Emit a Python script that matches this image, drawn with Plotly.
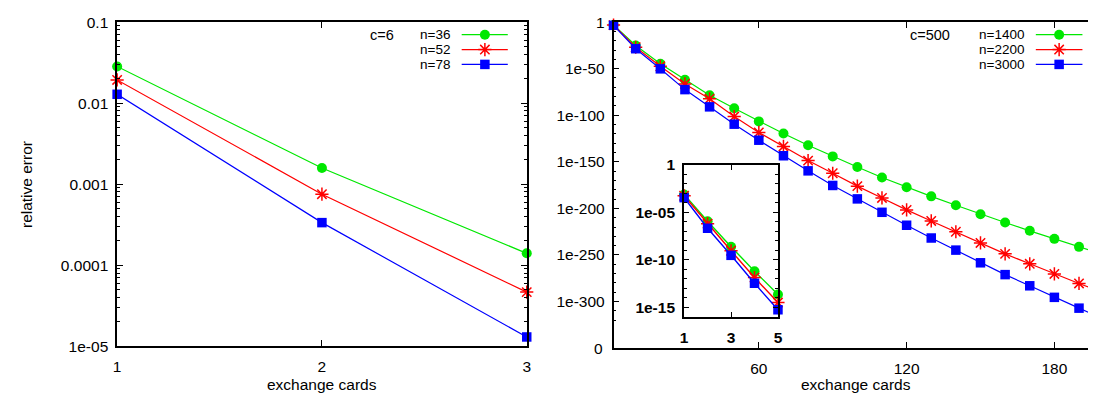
import plotly.graph_objects as go

# ---------------- data ----------------
# Left panel: c=6
left_x = [1, 2, 3]
left_n36 = [0.0283, 0.00158, 1.40e-4]
left_n52 = [0.0193, 7.52e-4, 4.65e-5]
left_n78 = [0.01285, 3.35e-4, 1.30e-5]

# Right panel: c=500 (values given as log10 exponents)
right_x = [1, 10, 20, 30, 40, 50, 60, 70, 80, 90, 100, 110, 120, 130, 140, 150, 160, 170, 180, 190, 200]
right_n1400_exp = [-3.12, -25.2, -44.8, -61.9, -78.5, -92.6, -106.6, -119.7, -132.2, -144.2, -155.6,
                   -166.9, -177.4, -187.1, -196.7, -206.3, -215.2, -224.1, -232.7, -241.3, -249.8]
right_n2200_exp = [-3.26, -27.0, -47.5, -66.4, -82.3, -101.4, -118.5, -133.5, -148.7, -162.3, -176.1,
                   -188.8, -201.6, -213.5, -225.1, -237.1, -248.8, -259.5, -270.4, -280.6, -290.5]
right_n3000_exp = [-3.46, -28.6, -50.2, -72.5, -91.0, -109.6, -126.8, -143.5, -159.7, -175.4, -189.8,
                   -204.2, -218.1, -231.8, -244.8, -258.4, -271.1, -283.1, -295.5, -307.1, -318.5]

# Inset: first five exchange cards
inset_x = [1, 2, 3, 4, 5]
inset_n1400_exp = [-3.12, -5.94, -8.62, -11.2, -13.65]
inset_n2200_exp = [-3.26, -6.2, -9.05, -11.87, -14.5]
inset_n3000_exp = [-3.46, -6.68, -9.53, -12.47, -15.26]

left_labels = ["n=36", "n=52", "n=78"]
right_labels = ["n=1400", "n=2200", "n=3000"]

# ---------------- styles ----------------
W, H = 1096, 403
GREEN, RED, BLUE = "#00e800", "#ff0000", "#0000ff"
FONT = "Liberation Sans, Arial, Helvetica, sans-serif"
FS = 15.5
LFS = 13.5
CLEAR = "rgba(0,0,0,0)"

def mk(color, sym):
    if sym == "asterisk":
        return dict(symbol="asterisk", size=11, color=color, opacity=1,
                    line=dict(color=color, width=1.5))
    size = 10 if sym == "circle" else 9.5
    return dict(symbol=sym, size=size, color=color, opacity=1, line=dict(width=0))

series_style = [(GREEN, "circle"), (RED, "asterisk"), (BLUE, "square")]

def px(x):
    return x / W

def py(y):
    return (H - y) / H

fig = go.Figure()

# left panel traces
for vals, (c, s), name in zip([left_n36, left_n52, left_n78], series_style, left_labels):
    fig.add_trace(go.Scatter(x=left_x, y=vals, mode="lines+markers", name=name,
                             line=dict(color=c, width=1.2), marker=mk(c, s),
                             cliponaxis=False, xaxis="x", yaxis="y", showlegend=False))

# right panel traces
for exps, (c, s), name in zip([right_n1400_exp, right_n2200_exp, right_n3000_exp], series_style, right_labels):
    vals = [10.0 ** e for e in exps]
    m = mk(c, s)
    m["size"] = [m["size"]] * (len(right_x) - 1) + [0]
    fig.add_trace(go.Scatter(x=right_x, y=vals, mode="lines+markers", name=name,
                             line=dict(color=c, width=1.2), marker=m,
                             cliponaxis=False, xaxis="x2", yaxis="y2", showlegend=False))

# inset traces
for exps, (c, s), name in zip([inset_n1400_exp, inset_n2200_exp, inset_n3000_exp], series_style, right_labels):
    vals = [10.0 ** e for e in exps]
    fig.add_trace(go.Scatter(x=inset_x, y=vals, mode="lines+markers", name=name,
                             line=dict(color=c, width=1.4), marker=mk(c, s),
                             cliponaxis=False, xaxis="x3", yaxis="y3", showlegend=False))

# legend samples on a pixel overlay
legend_rows = [18.5, 34, 49.5]
for (x0, x1, xm), labels in [((453.4, 499.9, 476.8), left_labels), ((1032.3, 1079.3, 1055.8), right_labels)]:
    for yrow, (c, s) in zip(legend_rows, series_style):
        fig.add_trace(go.Scatter(x=[x0, x1], y=[yrow, yrow], mode="lines", line=dict(color=c, width=1.2),
                                 xaxis="x4", yaxis="y4", showlegend=False, hoverinfo="skip"))
        fig.add_trace(go.Scatter(x=[xm], y=[yrow], mode="markers", marker=mk(c, s), cliponaxis=False,
                                 xaxis="x4", yaxis="y4", showlegend=False, hoverinfo="skip"))

tickfont = dict(family=FONT, size=FS, color="black")
axis_common = dict(showline=True, linecolor="black", linewidth=1.5, mirror="ticks",
                   ticks="inside", ticklen=6, tickwidth=1, tickcolor="black",
                   showgrid=False, zeroline=False, tickfont=tickfont, fixedrange=True)

left_minor = [k * 10.0 ** e for e in range(-5, -1) for k in range(2, 10)]
right_major = [10.0 ** (-e) for e in range(0, 301, 50)]
right_major_txt = ["1"] + ["1e-%d" % e for e in range(50, 301, 50)]
right_minor = [10.0 ** (-e) for e in range(10, 321, 10) if e % 50 != 0]
inset_minor = [10.0 ** (-e) for e in range(1, 17) if e % 5 != 0]

L0, L1 = 106, 519
R0, R1 = 606.5, 1096
I0, I1 = 677.7, 772.3

fig.update_layout(
    width=W, height=H, margin=dict(l=0, r=0, t=0, b=0),
    paper_bgcolor="white", plot_bgcolor=CLEAR, showlegend=False,
    font=dict(family=FONT, size=FS, color="black"),
    xaxis=dict(axis_common, domain=[px(L0), px(L1)], range=[1, 3], tickvals=[1, 2, 3],
               ticklabelstandoff=5, anchor="y"),
    yaxis=dict(axis_common, type="log", domain=[py(343.7), py(5.3)], range=[-5, -1],
               tickvals=[0.1, 0.01, 0.001, 0.0001, 1e-5],
               ticktext=["0.1", "0.01", "0.001", "0.0001", "1e-05"],
               minor=dict(tickmode="array", tickvals=left_minor, ticks="inside", ticklen=3,
                          tickcolor="black", tickwidth=1, showgrid=False),
               ticklabelstandoff=4, anchor="x"),
    xaxis2=dict(axis_common, domain=[px(R0), px(R1)], range=[1, 1 + (R1 - R0) / 2.4833],
                tickvals=[60, 120, 180], ticklabelstandoff=6, anchor="y2"),
    yaxis2=dict(axis_common, type="log", domain=[py(345.7), py(5.3)], range=[-350, 0],
                tickvals=right_major, ticktext=right_major_txt,
                minor=dict(tickmode="array", tickvals=right_minor, ticks="inside", ticklen=3,
                           tickcolor="black", tickwidth=1, showgrid=False),
                ticklabelstandoff=4, anchor="x2"),
    xaxis3=dict(axis_common, linewidth=2, domain=[px(I0), px(I1)], range=[1, 5], tickvals=[1, 3, 5],
                tickfont=dict(family=FONT, size=FS, color="black", weight="bold"),
                ticklen=5, ticklabelstandoff=6, anchor="y3"),
    yaxis3=dict(axis_common, linewidth=2, type="log", domain=[py(313), py(154.3)], range=[-16, 0],
                tickvals=[1, 1e-5, 1e-10, 1e-15], ticktext=["1", "1e-05", "1e-10", "1e-15"],
                tickfont=dict(family=FONT, size=FS, color="black", weight="bold"),
                ticklen=5,
                minor=dict(tickmode="array", tickvals=inset_minor, ticks="inside", ticklen=3,
                           tickcolor="black", tickwidth=1, showgrid=False),
                ticklabelstandoff=4, anchor="x3"),
    xaxis4=dict(domain=[0, 1], range=[0, W], visible=False, fixedrange=True, anchor="y4"),
    yaxis4=dict(domain=[0, 1], range=[H, 0], visible=False, fixedrange=True, anchor="x4"),
)

ann = []
def text(x, y, t, xanchor="center", angle=0, size=FS):
    ann.append(dict(x=x, y=y, xref="x4", yref="y4", text=t, showarrow=False, xanchor=xanchor,
                    yanchor="middle", textangle=angle, borderpad=0,
                    font=dict(family=FONT, size=size, color="black")))

text((L0 + L1) / 2, 384, "exchange cards")
text((R0 + R1) / 2, 384, "exchange cards")
text(14, 174.5, "relative error", angle=-90)
text(597, 345.7, "0", xanchor="right")
text(360.4, legend_rows[0], "c=6", xanchor="left", size=LFS + 1)
text(904, legend_rows[0], "c=500", xanchor="left", size=LFS + 1)
for yrow, lab in zip(legend_rows, left_labels):
    text(443.1, yrow, lab, xanchor="right", size=LFS)
for yrow, lab in zip(legend_rows, right_labels):
    text(1021.5, yrow, lab, xanchor="right", size=LFS)
fig.update_layout(annotations=ann)

# minor ticks below representable range on the right panel's left axis
shapes = []
for e in (-330, -340):
    shapes.append(dict(type="line", xref="paper", yref="y2", x0=px(R0), x1=px(R0 + 3), y0=e, y1=e,
                       line=dict(color="black", width=1)))
fig.update_layout(shapes=shapes)

fig.write_html("out.html")
